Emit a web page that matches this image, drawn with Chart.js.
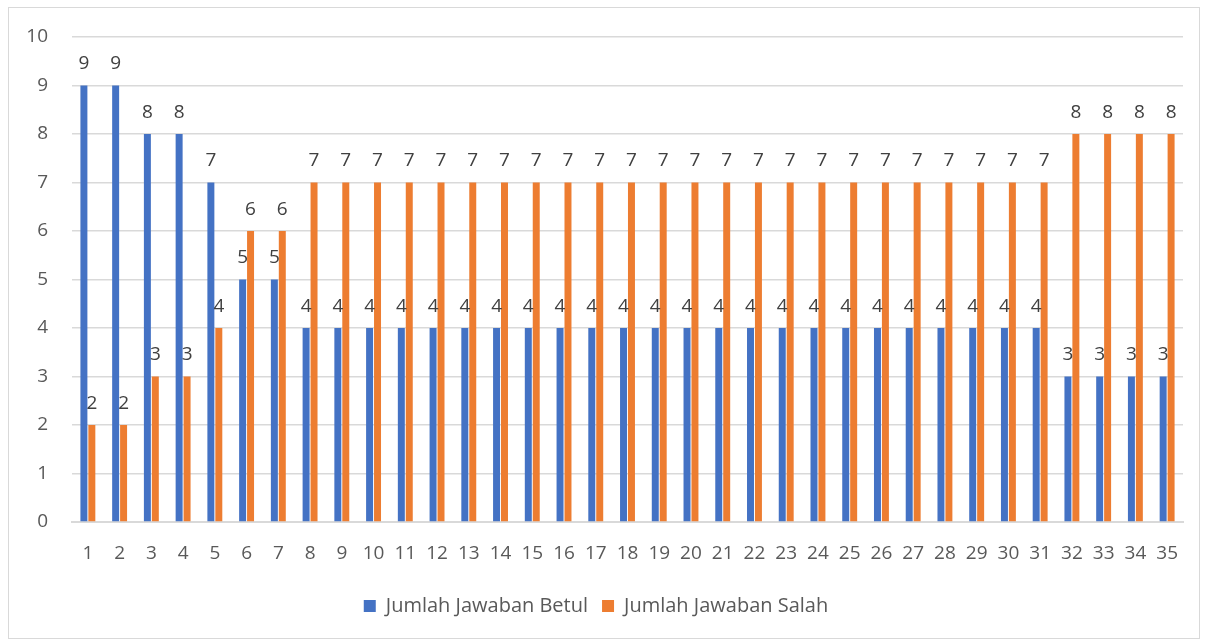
<!DOCTYPE html>
<html lang="en">
<head>
<meta charset="UTF-8">
<title>Jumlah Jawaban</title>
<style>
    body { margin: 0; background-color: #fff; }
    #wrap { position: absolute; left: 8px; top: 7px; width: 1192px; height: 632px; border: 1px solid #d9d9d9; box-sizing: border-box; }
    canvas { display: block; }
</style>
<script src="https://cdn.jsdelivr.net/npm/chart.js"></script>
</head>
<body>

<div id="wrap"><canvas id="chart"></canvas></div>

<script>
const soal = ["1","2","3","4","5","6","7","8","9","10","11","12","13","14","15","16","17","18","19","20","21","22","23","24","25","26","27","28","29","30","31","32","33","34","35"];
const betul = [9,9,8,8,7,5,5,4,4,4,4,4,4,4,4,4,4,4,4,4,4,4,4,4,4,4,4,4,4,4,4,3,3,3,3];
const salah = [2,2,3,3,4,6,6,7,7,7,7,7,7,7,7,7,7,7,7,7,7,7,7,7,7,7,7,7,7,7,7,8,8,8,8];

const fontFamily = "'Open Sans', sans-serif";

// label angka di atas setiap batang
const valueLabels = {
    id: "valueLabels",
    afterDatasetsDraw(chart) {
        const ctx = chart.ctx;
        ctx.save();
        ctx.font = "19px " + fontFamily;
        ctx.fillStyle = "#404040";
        ctx.textAlign = "center";
        ctx.textBaseline = "bottom";
        chart.data.datasets.forEach((ds, i) => {
            chart.getDatasetMeta(i).data.forEach((bar, j) => {
                ctx.fillText(ds.data[j], bar.x, bar.y - 12);
            });
        });
        ctx.restore();
    }
};

new Chart(document.getElementById("chart"), {
    type: "bar",
    data: {
        labels: soal,
        datasets: [
            { label: "Jumlah Jawaban Betul", data: betul, backgroundColor: "#4472c4", barPercentage: 0.88, categoryPercentage: 0.5 },
            { label: "Jumlah Jawaban Salah", data: salah, backgroundColor: "#ed7d31", barPercentage: 0.88, categoryPercentage: 0.5 }
        ]
    },
    options: {
        responsive: true,
        maintainAspectRatio: false,
        animation: false,
        layout: { padding: { left: 0, right: 16, top: 0, bottom: 12 } },
        scales: {
            x: {
                grid: { display: false },
                border: { color: "#d9d9d9", width: 2 },
                ticks: { color: "#595959", font: { family: fontFamily, size: 19 }, padding: 12, autoSkip: false, maxRotation: 0 },
                afterFit(scale) { scale.height = 60; }
            },
            y: {
                min: 0,
                max: 10,
                grid: { color: "#d9d9d9", lineWidth: 1.5, drawTicks: false },
                border: { display: false },
                ticks: { stepSize: 1, color: "#595959", font: { family: fontFamily, size: 19 }, padding: 24 },
                afterFit(scale) { scale.width = 63; scale.paddingTop = 29; }
            }
        },
        plugins: {
            legend: {
                position: "bottom",
                labels: { color: "#595959", font: { family: fontFamily, size: 20 }, boxWidth: 12, boxHeight: 12, padding: 14 }
            },
            tooltip: { enabled: false }
        }
    },
    plugins: [valueLabels]
});
</script>

</body>
</html>
